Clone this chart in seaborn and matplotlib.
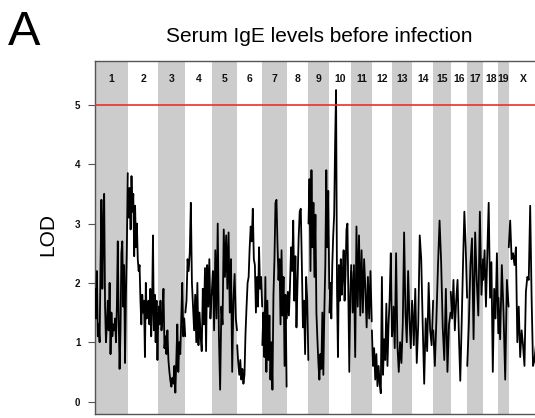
import matplotlib
matplotlib.use("Agg")
import matplotlib.pyplot as plt
import seaborn as sns
import numpy as np
import pandas as pd

# chromosome names and lengths (Mb)
chrom_names = ["1", "2", "3", "4", "5", "6", "7", "8", "9", "10",
               "11", "12", "13", "14", "15", "16", "17", "18", "19", "X"]
chrom_lengths = [195.5, 182.1, 160.0, 156.5, 151.8, 149.7, 145.4, 129.4, 124.6, 130.7,
                 122.1, 120.1, 120.4, 124.9, 104.0, 98.2, 95.0, 90.7, 61.4, 171.0]

# LOD profile along each chromosome
lod_1 = [1.9, 1.4, 2.2, 1.1, 1.3, 1.0, 2.3, 3.4, 1.9, 2.9, 3.5, 1.6, 1.0, 1.3, 1.7, 1.2, 2.0, 0.8, 1.5,
         1.1, 1.3, 1.2, 1.4, 1.0, 1.6, 2.7, 1.4, 0.55, 1.2, 2.5, 2.7, 1.6, 2.3, 0.65, 1.8, 2.6, 3.85]
lod_2 = [3.6, 3.1, 3.6, 2.9, 3.8, 3.2, 3.5, 2.45, 3.3, 2.6, 3.0, 2.4, 2.2, 2.3, 1.7, 1.3, 1.8, 1.5,
         1.7, 0.75, 2.0, 1.4, 1.5, 1.7, 1.3, 1.9, 1.1, 1.6, 2.8, 1.2, 1.8, 1.0, 1.7, 0.7, 1.5]
lod_3 = [1.6, 1.3, 1.7, 1.2, 1.4, 1.9, 0.9, 1.1, 0.8, 1.2, 0.7, 0.5, 0.35, 0.25, 0.4, 0.3, 0.6,
         0.15, 0.7, 1.3, 0.5, 1.0, 0.8, 1.4, 2.0, 1.1, 1.4, 1.1]
lod_4 = [1.5, 1.7, 2.4, 2.2, 2.5, 3.35, 2.0, 1.6, 1.2, 1.8, 1.0, 2.0, 0.95, 1.5, 1.1, 0.85, 1.9,
         1.3, 2.25, 0.85, 2.3, 1.6, 2.4, 1.4, 1.8]
lod_5 = [1.8, 2.2, 1.2, 2.55, 1.4, 3.0, 1.1, 0.2, 1.6, 1.3, 2.9, 2.1, 2.8, 1.9, 2.85, 1.5, 2.4,
         0.5, 1.7, 2.15, 1.4, 1.2]
lod_6 = [0.95, 0.65, 0.45, 0.7, 0.37, 0.55, 0.3, 0.45, 1.15, 1.6, 2.0, 2.1, 2.6, 2.95, 2.7, 3.25,
         2.4, 2.3, 1.5, 2.1, 1.6, 2.6, 1.9, 2.1, 1.6]
lod_7 = [0.95, 1.5, 0.75, 2.1, 0.5, 1.7, 0.7, 1.45, 0.37, 1.0, 0.2, 1.8, 2.4, 3.35, 3.4, 2.65, 2.05,
         2.4, 1.3, 2.55, 1.45, 2.1, 0.6, 1.8, 0.25]
lod_8 = [1.4, 1.85, 1.45, 1.95, 2.6, 2.2, 3.05, 1.7, 2.45, 1.25, 2.0, 2.75, 3.2, 3.25, 2.3, 1.25,
         1.7, 0.8, 2.1, 1.7, 0.7]
lod_9 = [3.0, 3.75, 2.2, 3.9, 2.6, 3.35, 2.1, 3.15, 1.5, 1.05, 0.65, 0.37, 0.8, 0.55, 1.5, 0.45,
         1.5, 2.3, 3.9, 2.6, 3.55, 1.9]
lod_10 = [1.5, 2.0, 1.4, 2.3, 2.8, 3.15, 4.35, 5.25, 1.9, 0.75, 2.3, 1.7, 2.4, 1.8, 2.15, 2.55,
          1.7, 2.15, 2.9, 3.0, 1.75, 0.5, 1.8, 2.3]
lod_11 = [2.2, 1.5, 2.3, 0.75, 2.95, 1.6, 2.8, 1.45, 2.55, 1.5, 2.4, 1.9, 1.25, 2.1, 1.4, 2.2, 1.35]
lod_12 = [1.2, 0.6, 0.9, 0.37, 0.8, 0.26, 0.6, 0.3, 0.14, 2.1, 0.45, 1.05, 0.7, 1.65, 0.6, 1.3,
          1.75, 2.5, 1.1]
lod_13 = [1.1, 1.6, 0.9, 2.5, 0.95, 0.5, 1.0, 0.65, 1.3, 2.85, 1.5, 1.0, 2.2, 1.4, 0.9, 1.7]
lod_14 = [1.65, 0.95, 1.9, 0.65, 1.3, 2.8, 2.4, 1.3, 0.3, 1.4, 0.85, 2.0, 1.2, 0.95, 1.7]
lod_15 = [1.2, 0.6, 1.4, 2.3, 3.05, 2.35, 1.25, 0.7, 1.9, 0.5, 1.3, 1.5]
lod_16 = [1.85, 1.4, 2.05, 1.2, 1.7, 2.05, 1.1, 0.35, 1.3, 2.3, 3.2, 2.6, 1.75]
lod_17 = [0.6, 1.3, 2.3, 2.75, 1.05, 2.85, 2.05, 1.45, 3.2, 1.8, 2.4]
lod_18 = [2.05, 2.55, 1.6, 2.5, 3.35, 1.75, 2.35, 0.5, 1.9, 1.4, 2.5, 1.15]
lod_19 = [1.75, 1.05, 2.3, 1.5, 0.37, 2.05, 1.6]
lod_x = [2.6, 3.05, 2.4, 2.5, 2.3, 2.6, 1.0, 1.6, 0.75, 1.2, 0.95, 0.6, 1.85, 2.1, 2.05, 3.3,
         1.75, 0.6, 0.7, 0.95, 1.1]

lod_values = [lod_1, lod_2, lod_3, lod_4, lod_5, lod_6, lod_7, lod_8, lod_9, lod_10,
              lod_11, lod_12, lod_13, lod_14, lod_15, lod_16, lod_17, lod_18, lod_19, lod_x]

threshold = 5.0

# cumulative genome positions
starts = np.concatenate([[0], np.cumsum(chrom_lengths)[:-1]])
total = float(np.sum(chrom_lengths))

rows = []
for name, start, length, vals in zip(chrom_names, starts, chrom_lengths, lod_values):
    pos = np.linspace(start + 0.5, start + length - 0.5, len(vals))
    for p, v in zip(pos, vals):
        rows.append({"chrom": name, "pos": p, "lod": v})
df = pd.DataFrame(rows)

sns.set_theme(style="white")
plt.rcParams["font.family"] = ["Liberation Sans", "DejaVu Sans"]
plt.rcParams["text.color"] = "black"
plt.rcParams["axes.labelcolor"] = "black"

fig = plt.figure(figsize=(5.35, 4.18), dpi=100)
ax = fig.add_axes([95 / 535, 4 / 418, 442.4 / 535, 353 / 418])

# alternating chromosome bands
for i, (start, length) in enumerate(zip(starts, chrom_lengths)):
    if i % 2 == 0:
        ax.axvspan(start, start + length, color="#cccccc", lw=0, zorder=0)

sns.lineplot(data=df, x="pos", y="lod", units="chrom", estimator=None,
             color="black", lw=1.3, sort=False, ax=ax, zorder=3)

ax.axhline(threshold, color="#e8322a", lw=1.2, zorder=4)

ax.set_xlim(0, total)
ax.set_ylim(-0.21, 5.74)
ax.set_xticks([])
ax.set_yticks(range(0, 6))
ax.set_yticklabels([str(v) for v in range(0, 6)], fontweight="bold", fontsize=7, color="#111111")
ax.tick_params(axis="y", length=5, width=0.8, color="#555555", pad=5.5, left=True)
ax.set_xlabel("")
ax.set_ylabel("LOD", fontsize=15, va="center")
ax.yaxis.set_label_coords((47.5 - 95) / 442.4, (414 - 235) / 353)

for sp in ax.spines.values():
    sp.set_color("#555555")
    sp.set_linewidth(1.0)

for name, start, length in zip(chrom_names, starts, chrom_lengths):
    ax.text(start + length / 2, 5.44, name, ha="center", va="center",
            fontsize=7.5, fontweight="bold", color="#111111")

fig.text(319 / 535, 1 - 37 / 418, "Serum IgE levels before infection",
         ha="center", va="center", fontsize=15)
fig.text(8 / 535, 1 - 45 / 418, "A", ha="left", va="baseline", fontsize=35)

fig.savefig("out.png", dpi=100)
